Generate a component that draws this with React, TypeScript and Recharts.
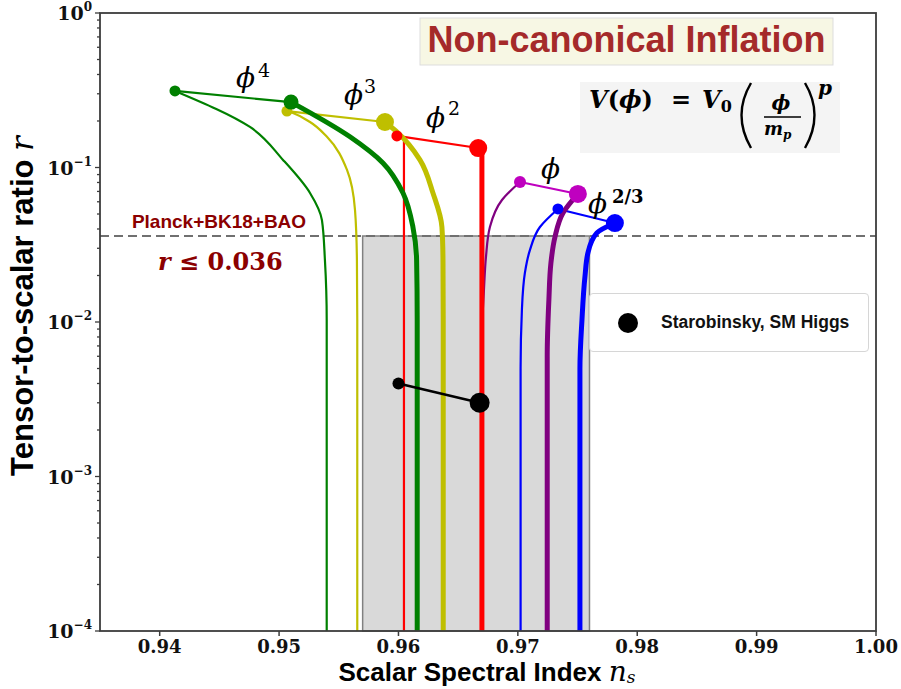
import React from "react";
import {
  ComposedChart,
  Line,
  XAxis,
  YAxis,
  ReferenceArea,
  ReferenceLine,
  Legend,
} from "recharts";

// phi^4 : end points (N=50, N=60) and the two trajectories
const phi4Dots = [
  { x: 0.94128, y: 0.313 },
  { x: 0.951, y: 0.265 },
];
const phi4Thin = [
  { x: 0.94128, y: 0.313 },
  { x: 0.94756, y: 0.183 },
  { x: 0.95033, y: 0.112 },
  { x: 0.95259, y: 0.0684 },
  { x: 0.95359, y: 0.0457 },
  { x: 0.95384, y: 0.0252 },
  { x: 0.95399, y: 0.0103 },
  { x: 0.95399, y: 0.0001 },
];
const phi4Thick = [
  { x: 0.951, y: 0.265 },
  { x: 0.95594, y: 0.158 },
  { x: 0.9587, y: 0.107 },
  { x: 0.96038, y: 0.0684 },
  { x: 0.96121, y: 0.0412 },
  { x: 0.96152, y: 0.0252 },
  { x: 0.96157, y: 0.0103 },
  { x: 0.96157, y: 0.0001 },
];

// phi^3
const phi3Dots = [
  { x: 0.95066, y: 0.232 },
  { x: 0.95887, y: 0.197 },
];
const phi3Thin = [
  { x: 0.95066, y: 0.232 },
  { x: 0.95116, y: 0.225 },
  { x: 0.95259, y: 0.197 },
  { x: 0.95401, y: 0.158 },
  { x: 0.95569, y: 0.0964 },
  { x: 0.95636, y: 0.0531 },
  { x: 0.95652, y: 0.0252 },
  { x: 0.95655, y: 0.0103 },
  { x: 0.95655, y: 0.0001 },
];
const phi3Thick = [
  { x: 0.95887, y: 0.197 },
  { x: 0.95987, y: 0.17 },
  { x: 0.9618, y: 0.112 },
  { x: 0.96289, y: 0.0684 },
  { x: 0.96364, y: 0.0412 },
  { x: 0.96373, y: 0.0252 },
  { x: 0.96375, y: 0.0103 },
  { x: 0.96375, y: 0.0001 },
];

// phi^2
const phi2Dots = [
  { x: 0.95987, y: 0.16 },
  { x: 0.96668, y: 0.1337 },
];
const phi2Thin = [
  { x: 0.95987, y: 0.16 },
  { x: 0.96046, y: 0.15 },
  { x: 0.96046, y: 0.0001 },
];
const phi2Thick = [
  { x: 0.96668, y: 0.1337 },
  { x: 0.96699, y: 0.12 },
  { x: 0.96699, y: 0.0001 },
];

// phi
const phi1Dots = [
  { x: 0.97018, y: 0.0806 },
  { x: 0.97503, y: 0.0674 },
];
const phi1Thin = [
  { x: 0.97018, y: 0.0806 },
  { x: 0.96867, y: 0.0616 },
  { x: 0.96766, y: 0.0412 },
  { x: 0.96733, y: 0.0264 },
  { x: 0.96716, y: 0.0161 },
  { x: 0.96699, y: 0.008 },
  { x: 0.96699, y: 0.0001 },
];
const phi1Thick = [
  { x: 0.97503, y: 0.0674 },
  { x: 0.97378, y: 0.0507 },
  { x: 0.97311, y: 0.0355 },
  { x: 0.97277, y: 0.0241 },
  { x: 0.9726, y: 0.0139 },
  { x: 0.97246, y: 0.006 },
  { x: 0.97246, y: 0.0001 },
];

// phi^(2/3)
const phi23Dots = [
  { x: 0.97336, y: 0.0539 },
  { x: 0.97813, y: 0.0437 },
];
const phi23Thin = [
  { x: 0.97336, y: 0.0539 },
  { x: 0.97185, y: 0.0412 },
  { x: 0.97101, y: 0.0292 },
  { x: 0.97059, y: 0.0208 },
  { x: 0.97034, y: 0.012 },
  { x: 0.97023, y: 0.005 },
  { x: 0.97023, y: 0.0001 },
];
const phi23Thick = [
  { x: 0.97813, y: 0.0437 },
  { x: 0.97662, y: 0.0377 },
  { x: 0.97587, y: 0.028 },
  { x: 0.97562, y: 0.0196 },
  { x: 0.97537, y: 0.0103 },
  { x: 0.9752, y: 0.005 },
  { x: 0.9752, y: 0.0001 },
];

// Starobinsky / SM Higgs
const starobinsky = [
  { x: 0.96, y: 0.004 },
  { x: 0.9668, y: 0.003 },
];

// Planck + BK18 + BAO bounds
const planckR = 0.036;
const planckNs = [0.957, 0.976];

const xTicks = [0.94, 0.95, 0.96, 0.97, 0.98, 0.99, 1.0];
const yMajor = [1e-4, 1e-3, 1e-2, 1e-1, 1];
const yTicks = [
  ...yMajor.slice(0, -1).flatMap((m) => [1, 2, 3, 4, 5, 6, 7, 8, 9].map((k) => k * m)),
  1,
];

const GREEN = "#008000";
const YELLOW = "#bfbf00";
const RED = "#ff0000";
const MAGENTA = "#bf00bf";
const PURPLE = "#800080";
const BLUE = "#0000ff";
const AXIS = "#3c3c3c";
const DARKRED = "#8b0000";
const SERIF = "'DejaVu Serif', serif";
const SANS = "'Liberation Sans', Arial, sans-serif";

const THIN = 2.2;
const THICK = 5;

const XTick = (props: any) => {
  const { x, y, payload } = props;
  return (
    <g>
      <line x1={x} x2={x} y1={y} y2={y + 5} stroke={AXIS} strokeWidth={1.5} />
      <text x={x} y={y + 22} textAnchor="middle" fontFamily={SERIF} fontWeight="bold" fontSize={18} fill="#111">
        {Number(payload.value).toFixed(2)}
      </text>
    </g>
  );
};

const YTick = (props: any) => {
  const { x, y, payload } = props;
  const v = payload.value;
  const e = Math.round(Math.log10(v));
  const major = Math.abs(v / Math.pow(10, e) - 1) < 1e-6;
  return (
    <g>
      <line x1={x - (major ? 5 : 3)} x2={x} y1={y} y2={y} stroke={AXIS} strokeWidth={1.3} />
      {major && (
        <text x={x - 8} y={y + 7} textAnchor="end" fontFamily={SERIF} fontWeight="bold" fontSize={19} fill="#111">
          10
          <tspan dy={-9} fontSize={12}>
            {e === 0 ? "0" : "\u2212" + -e}
          </tspan>
        </text>
      )}
    </g>
  );
};

const makeDots = (color: string, radii: number[]) => (props: any) => {
  const { cx, cy, index } = props;
  return <circle key={`d-${color}-${index}`} cx={cx} cy={cy} r={radii[index]} fill={color} stroke="none" />;
};

const LegendBox = () => (
  <div
    style={{
      width: 278,
      height: 57,
      border: "1px solid #d6d6d6",
      borderRadius: 4,
      background: "rgba(255,255,255,0.85)",
      display: "flex",
      alignItems: "center",
      fontFamily: SANS,
      fontWeight: "bold",
      fontSize: 17.5,
      color: "#111",
    }}
  >
    <svg width={71} height={30} style={{ flex: "none" }}>
      <circle cx={38} cy={15} r={10} fill="#000" />
    </svg>
    <span>Starobinsky, SM Higgs</span>
  </div>
);

export default function App() {
  const seg = (data: any[], color: string, radii: number[], w = THIN) => (
    <Line
      data={data}
      dataKey="y"
      type="linear"
      stroke={color}
      strokeWidth={w}
      dot={makeDots(color, radii)}
      activeDot={false}
      isAnimationActive={false}
    />
  );
  const curve = (data: any[], color: string, w: number) => (
    <Line
      data={data}
      dataKey="y"
      type="monotoneY"
      stroke={color}
      strokeWidth={w}
      dot={false}
      activeDot={false}
      isAnimationActive={false}
    />
  );

  return (
    <div style={{ position: "absolute", left: 0, top: 0, width: 901, height: 689, background: "#fff" }}>
      <ComposedChart width={901} height={689} margin={{ top: 13, right: 25, bottom: 0, left: 0 }}>
        <XAxis
          dataKey="x"
          type="number"
          domain={[0.935, 1.0]}
          ticks={xTicks}
          tick={(p: any) => <XTick {...p} />}
          tickLine={false}
          axisLine={false}
          tickSize={0}
          tickMargin={0}
          height={58}
          interval={0}
          allowDataOverflow
        />
        <YAxis
          dataKey="y"
          type="number"
          scale="log"
          domain={[1e-4, 1]}
          ticks={yTicks}
          tick={(p: any) => <YTick {...p} />}
          tickLine={false}
          axisLine={false}
          tickSize={0}
          tickMargin={0}
          width={100}
          interval={0}
          allowDataOverflow
        />
        <ReferenceArea
          x1={planckNs[0]}
          x2={planckNs[1]}
          y1={1e-4}
          y2={planckR}
          fill="#d9d9d9"
          fillOpacity={1}
          stroke="#808080"
          strokeWidth={1.5}
        />
        <ReferenceLine y={planckR} stroke="#707070" strokeWidth={2} strokeDasharray="9 5" />

        {seg(phi23Dots, BLUE, [5.5, 9])}
        {curve(phi23Thin, BLUE, THIN)}
        {curve(phi23Thick, BLUE, THICK)}

        {seg(phi1Dots, MAGENTA, [6, 9])}
        {curve(phi1Thin, PURPLE, THIN)}
        {curve(phi1Thick, PURPLE, THICK)}

        {seg(phi2Dots, RED, [5.5, 9])}
        {curve(phi2Thin, RED, THIN)}
        {curve(phi2Thick, RED, THICK)}

        {seg(phi3Dots, YELLOW, [5.5, 9])}
        {curve(phi3Thin, YELLOW, THIN)}
        {curve(phi3Thick, YELLOW, THICK)}

        {seg(phi4Dots, GREEN, [5.5, 7.5])}
        {curve(phi4Thin, GREEN, THIN)}
        {curve(phi4Thick, GREEN, THICK)}

        {seg(starobinsky, "#000", [6, 10], 2.6)}

        <Legend
          layout="vertical"
          align="center"
          verticalAlign="middle"
          wrapperStyle={{ left: 589, top: 293, width: 280, height: 59 }}
          content={() => <LegendBox />}
        />
      </ComposedChart>

      <svg width={901} height={689} style={{ position: "absolute", left: 0, top: 0, pointerEvents: "none" }}>
        <rect x={100} y={13} width={776} height={618} fill="none" stroke={AXIS} strokeWidth={1.8} />

        {/* title */}
        <rect x={420} y={18} width={413} height={47} fill="#f7f7e4" stroke="#dddddd" strokeWidth={1} />
        <text x={626.5} y={52} textAnchor="middle" fontFamily={SANS} fontWeight="bold" fontSize={36} fill="#a52a2a">
          Non-canonical Inflation
        </text>

        {/* potential */}
        <rect x={580} y={82} width={260} height={71} fill="#f4f4f4" />
        <g fontFamily={SERIF} fontWeight="bold" fill="#000">
          <text x={589} y={108} fontSize={24}>
            <tspan fontStyle="italic">V</tspan>(<tspan fontStyle="italic">ϕ</tspan>)
          </text>
          <text x={671} y={108} fontSize={24}>=</text>
          <text x={702} y={108} fontSize={24}>
            <tspan fontStyle="italic">V</tspan>
            <tspan fontSize={16} dy={4}>0</tspan>
          </text>
          <path d="M 751 83 Q 732 115 751 148" fill="none" stroke="#000" strokeWidth={2.4} />
          <text x={781} y={110} fontSize={20} fontStyle="italic" textAnchor="middle">ϕ</text>
          <line x1={764} x2={801} y1={117} y2={117} stroke="#000" strokeWidth={1.6} />
          <text x={764} y={135} fontSize={18} fontStyle="italic">
            m<tspan fontSize={12} dy={4}>p</tspan>
          </text>
          <path d="M 805 83 Q 824 115 805 148" fill="none" stroke="#000" strokeWidth={2.4} />
          <text x={818} y={95} fontSize={20} fontStyle="italic">p</text>
        </g>

        {/* model labels */}
        <g fontFamily={SERIF} fill="#000">
          <text x={236} y={87} fontSize={28} fontStyle="italic">ϕ</text>
          <text x={258} y={77} fontSize={19}>4</text>
          <text x={344} y={104} fontSize={28} fontStyle="italic">ϕ</text>
          <text x={364} y={93} fontSize={19}>3</text>
          <text x={426} y={127} fontSize={28} fontStyle="italic">ϕ</text>
          <text x={448} y={115} fontSize={19}>2</text>
          <text x={541} y={178} fontSize={28} fontStyle="italic">ϕ</text>
          <text x={588} y={213} fontSize={28} fontStyle="italic">ϕ</text>
          <text x={612} y={203} fontSize={18} fontWeight="bold">2/3</text>
        </g>

        {/* Planck bound */}
        <text x={219} y={228} textAnchor="middle" fontFamily={SANS} fontWeight="bold" fontSize={19} fill={DARKRED}>
          Planck+BK18+BAO
        </text>
        <text x={158} y={270} fontFamily={SERIF} fontWeight="bold" fontSize={24} fill={DARKRED}>
          <tspan fontStyle="italic">r</tspan> ≤ 0.036
        </text>

        {/* axis titles */}
        <text x={487} y={681} textAnchor="middle" fontFamily={SANS} fontWeight="bold" fontSize={26} fill="#000">
          Scalar Spectral Index{" "}
          <tspan fontFamily={SERIF} fontStyle="italic" fontWeight="normal" fontSize={28}>
            n
          </tspan>
          <tspan fontFamily={SERIF} fontStyle="italic" fontWeight="normal" fontSize={17} dy={2}>
            s
          </tspan>
        </text>
        <text
          transform="translate(33 306) rotate(-90)"
          textAnchor="middle"
          fontFamily={SANS}
          fontWeight="bold"
          fontSize={31}
          fill="#000"
        >
          Tensor-to-scalar ratio{" "}
          <tspan fontFamily={SERIF} fontStyle="italic" fontWeight="normal">
            r
          </tspan>
        </text>
      </svg>
    </div>
  );
}
